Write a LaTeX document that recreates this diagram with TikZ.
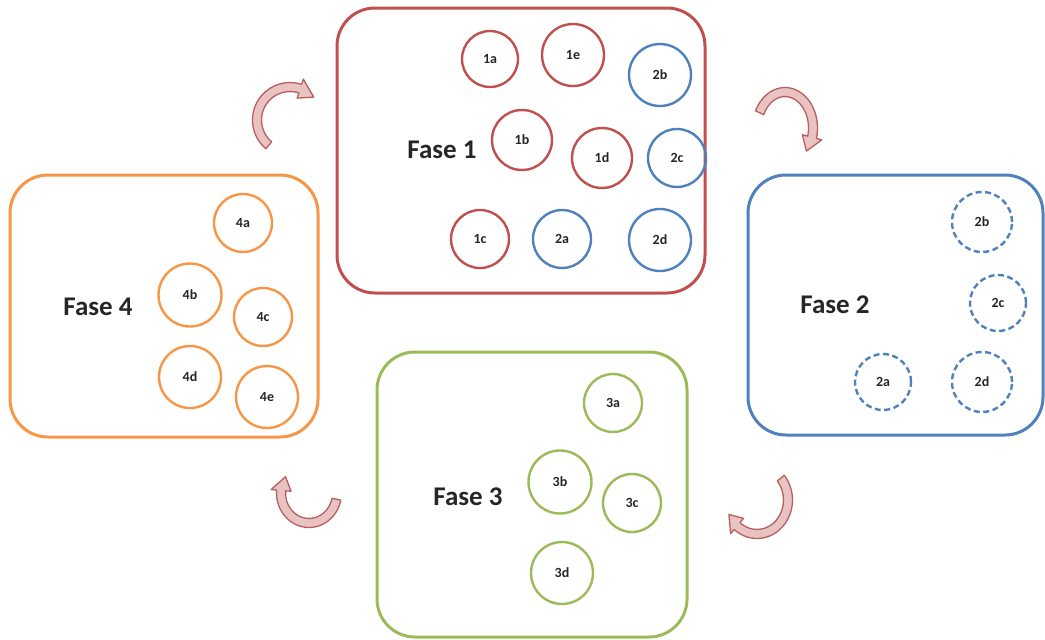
\documentclass[tikz,border=0pt]{standalone}
\usepackage{fontspec}
\setmainfont{Carlito}

\definecolor{phaseRed}{HTML}{C0504D}
\definecolor{phaseBlue}{HTML}{4F81BD}
\definecolor{phaseGreen}{HTML}{9BBB59}
\definecolor{phaseOrange}{HTML}{F79646}
\definecolor{arrowEdge}{HTML}{B85F5E}
\definecolor{arrowFill}{HTML}{E8C3C2}

% Curved block arrow on an ellipse: centre x, centre y, x radius, y radius,
% start angle, angle where the head begins, angle of the tip.
\newcommand{\cyclearrow}[7]{%
  \begin{scope}[shift={(#1,#2)}]
    \draw[flowarrow]
      ({#5}:{#3+4.5} and {#4+4.5})
      arc[start angle=#5, end angle=#6, x radius={#3+4.5}, y radius={#4+4.5}]
      -- ({#6}:{#3+10} and {#4+10})
      -- ({#7}:{#3} and {#4})
      -- ({#6}:{#3-10} and {#4-10})
      -- ({#6}:{#3-4.5} and {#4-4.5})
      arc[start angle=#6, end angle=#5, x radius={#3-4.5}, y radius={#4-4.5}]
      -- cycle;
  \end{scope}}

\begin{document}
\begin{tikzpicture}[x=1pt, y=-1pt,
  phase/.style={rectangle, rounded corners=38pt, line width=3pt, inner sep=0pt},
  member/.style={circle, line width=2.4pt, inner sep=0pt,
    font=\bfseries\fontsize{14}{14}\selectfont, text=black!85},
  leaving/.style={member, dash pattern=on 6pt off 3.5pt},
  phaselabel/.style={font=\bfseries\fontsize{27}{27}\selectfont, text=black!85},
  flowarrow/.style={draw=arrowEdge, line width=1.3pt, fill=arrowFill, line join=round}]

\useasboundingbox (0,0) rectangle (1045,640);

% Phase frames
\node[phase, draw=phaseRed,    minimum width=368, minimum height=285] (p1) at (521,150.5) {};
\node[phase, draw=phaseBlue,   minimum width=295, minimum height=260] (p2) at (895.5,305) {};
\node[phase, draw=phaseGreen,  minimum width=310, minimum height=285] (p3) at (532,494.5) {};
\node[phase, draw=phaseOrange, minimum width=308, minimum height=262] (p4) at (164,306) {};

% Phase 1
\node[phaselabel] (l1) at (442,150) {Fase 1};
\node[member, draw=phaseRed,  minimum size=56] (f1-1a) at (490,59)  {1a};
\node[member, draw=phaseRed,  minimum size=62] (f1-1e) at (573,55)  {1e};
\node[member, draw=phaseBlue, minimum size=62] (f1-2b) at (660,75)  {2b};
\node[member, draw=phaseRed,  minimum size=60] (f1-1b) at (522,140) {1b};
\node[member, draw=phaseRed,  minimum size=60] (f1-1d) at (602,158) {1d};
\node[member, draw=phaseBlue, minimum size=58] (f1-2c) at (677,158) {2c};
\node[member, draw=phaseRed,  minimum size=58] (f1-1c) at (480,239) {1c};
\node[member, draw=phaseBlue, minimum size=58] (f1-2a) at (562,239) {2a};
\node[member, draw=phaseBlue, minimum size=62] (f1-2d) at (660,240) {2d};

% Phase 2
\node[phaselabel] (l2) at (835,305) {Fase 2};
\node[leaving, draw=phaseBlue, minimum size=60] (f2-2b) at (982,222) {2b};
\node[leaving, draw=phaseBlue, minimum size=56] (f2-2c) at (998,303) {2c};
\node[leaving, draw=phaseBlue, minimum size=56] (f2-2a) at (883,382) {2a};
\node[leaving, draw=phaseBlue, minimum size=60] (f2-2d) at (982,382) {2d};

% Phase 3
\node[phaselabel] (l3) at (468,497) {Fase 3};
\node[member, draw=phaseGreen, minimum size=58] (f3-3a) at (613,403) {3a};
\node[member, draw=phaseGreen, minimum size=63] (f3-3b) at (560,482) {3b};
\node[member, draw=phaseGreen, minimum size=58] (f3-3c) at (632,503) {3c};
\node[member, draw=phaseGreen, minimum size=62] (f3-3d) at (562,573) {3d};

% Phase 4
\node[phaselabel] (l4) at (98,307) {Fase 4};
\node[member, draw=phaseOrange, minimum size=58] (f4-4a) at (243,223) {4a};
\node[member, draw=phaseOrange, minimum size=63] (f4-4b) at (190,295) {4b};
\node[member, draw=phaseOrange, minimum size=58] (f4-4c) at (263,317) {4c};
\node[member, draw=phaseOrange, minimum size=62] (f4-4d) at (190,377) {4d};
\node[member, draw=phaseOrange, minimum size=62] (f4-4e) at (267,397) {4e};

% Cycle arrows between the phases
\cyclearrow{290}{120}{33}{33}{130}{288}{316}
\cyclearrow{785}{128}{28}{36}{205}{375}{400}
\cyclearrow{757}{500}{31}{34}{320}{490}{515}
\cyclearrow{309}{493}{28}{30}{12}{185}{213}

\end{tikzpicture}
\end{document}
